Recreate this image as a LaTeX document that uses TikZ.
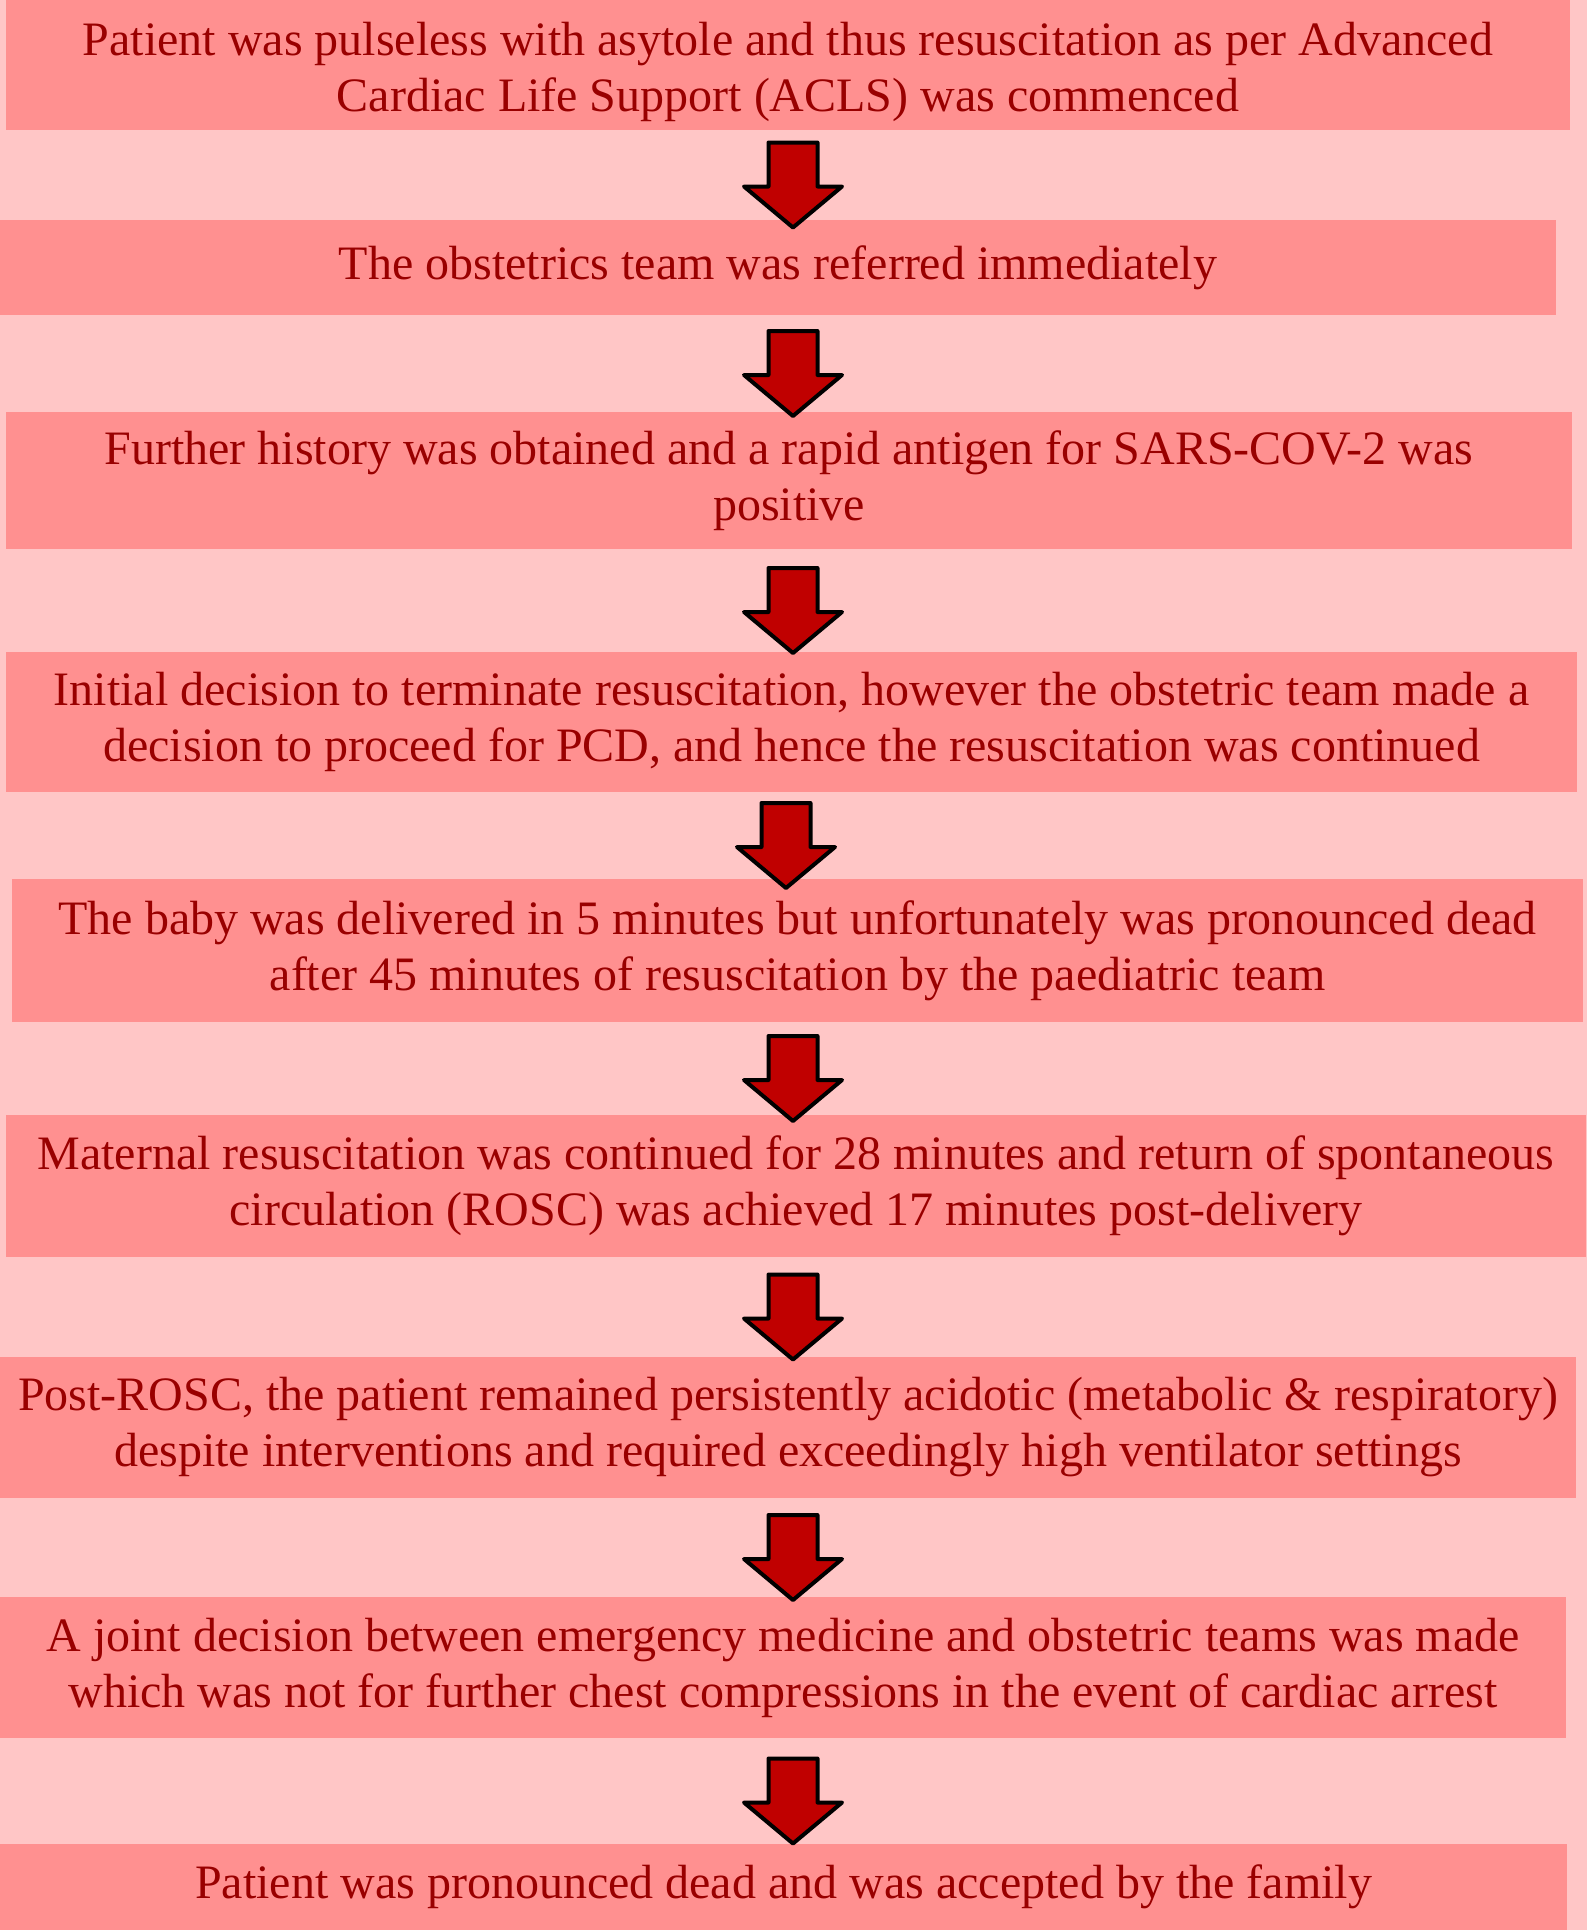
\documentclass[tikz,border=0pt]{standalone}
\usepackage{fontspec}
\setmainfont{Liberation Serif}
\usetikzlibrary{positioning, calc, backgrounds}
\definecolor{background}{RGB}{255,198,198}
\definecolor{boxfill}{RGB}{255,144,144}
\definecolor{boxtext}{RGB}{153,0,0}
\definecolor{arrowfill}{RGB}{192,0,0}

\begin{document}
\begin{tikzpicture}[x=1pt, y=-1pt]
\tikzstyle{block} = [rectangle, fill=boxfill, text=boxtext, align=center,
    inner sep=0pt, font=\fontsize{48}{56}\selectfont]
\tikzstyle{line} = [draw=black, fill=arrowfill, line width=4pt, line join=round]
\tikzset{fatdown/.pic={
    \path[line] (-24.5,-42.5) -- (24.5,-42.5) -- (24.5,1.5) -- (49,1.5)
        -- (0,42.5) -- (-49,1.5) -- (-24.5,1.5) -- cycle;}}
    \fill[background] (0,0) rectangle (1587,1930);
    \useasboundingbox (0,0) rectangle (1587,1930);

    % Place nodes
    \node [block, minimum width=1564, minimum height=130] (acls) at (788,65)
        {\rule{0pt}{48pt}Patient was pulseless with asytole and thus resuscitation as per Advanced\\Cardiac Life Support (ACLS) was commenced};
    \node [block, minimum width=1556, minimum height=95] (obs) at (778,267.5)
        {The obstetrics team was referred immediately};
    \node [block, minimum width=1566, minimum height=137] (hist) at (789,480.5)
        {Further history was obtained and a rapid antigen for SARS-COV-2 was\\positive};
    \node [block, minimum width=1571, minimum height=140] (pcd) at (791.5,722)
        {Initial decision to terminate resuscitation, however the obstetric team made a\\decision to proceed for PCD, and hence the resuscitation was continued};
    \node [block, minimum width=1571, minimum height=143] (baby) at (797.5,950.5)
        {The baby was delivered in 5 minutes but unfortunately was pronounced dead\\after 45 minutes of resuscitation by the paediatric team};
    \node [block, minimum width=1580, minimum height=142] (rosc) at (796,1186)
        {Maternal resuscitation was continued for 28 minutes and return of spontaneous\\circulation (ROSC) was achieved 17 minutes post-delivery};
    \node [block, minimum width=1576, minimum height=141] (post) at (788,1427.5)
        {Post-ROSC, the patient remained persistently acidotic (metabolic \& respiratory)\\despite interventions and required exceedingly high ventilator settings};
    \node [block, minimum width=1566, minimum height=141] (joint) at (783,1667.5)
        {A joint decision between emergency medicine and obstetric teams was made\\which was not for further chest compressions in the event of cardiac arrest};
    \node [block, minimum width=1567, minimum height=86] (dead) at (783.5,1887)
        {Patient was pronounced dead and was accepted by the family};

%paths
    \foreach \from/\to/\ax in {acls/obs/793, obs/hist/793, hist/pcd/793, pcd/baby/786,
        baby/rosc/793, rosc/post/793, post/joint/793, joint/dead/793}
        \path let \p1 = ($(\from.south)!0.5!(\to.north)$) in (\ax pt, \y1-10pt) pic {fatdown};

\end{tikzpicture}
\end{document}
